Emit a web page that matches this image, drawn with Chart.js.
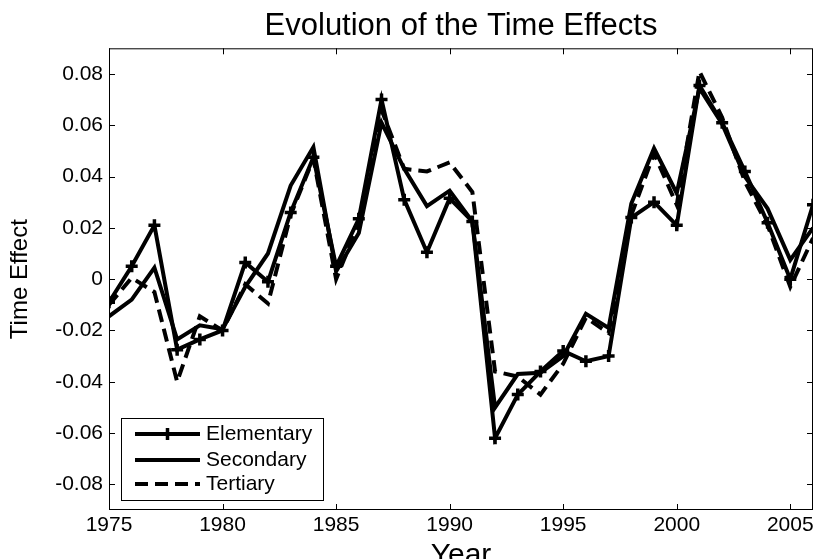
<!DOCTYPE html>
<html>
<head>
<meta charset="utf-8">
<script src="https://cdn.jsdelivr.net/npm/chart.js@4"></script>
<style>
  html, body { margin: 0; padding: 0; background: #fff; }
  #wrap { width: 814px; height: 559px; }
</style>
</head>
<body>
<div id="wrap"><canvas id="chart" width="814" height="559"></canvas></div>
<script>
const years = [1975, 1976, 1977, 1978, 1979, 1980, 1981, 1982, 1983, 1984, 1985,
               1986, 1987, 1988, 1989, 1990, 1991, 1992, 1993, 1994, 1995, 1996,
               1997, 1998, 1999, 2000, 2001, 2002, 2003, 2004, 2005, 2006];

const elementary = [-0.009, 0.005, 0.021, -0.0275, -0.0235, -0.020, 0.0065, -0.001, 0.026, 0.0475, 0.005,
                    0.0235, 0.070, 0.031, 0.0105, 0.0315, 0.0225, -0.062, -0.045, -0.036, -0.028, -0.032,
                    -0.030, 0.024, 0.030, 0.021, 0.0755, 0.061, 0.042, 0.022, 0.000, 0.029];

const secondary = [-0.0145, -0.008, 0.0045, -0.0235, -0.018, -0.0195, -0.003, 0.010, 0.0365, 0.0515, 0.003,
                   0.018, 0.061, 0.043, 0.0285, 0.0345, 0.0225, -0.050, -0.037, -0.0365, -0.030, -0.0135,
                   -0.019, 0.0295, 0.051, 0.0335, 0.0745, 0.0605, 0.040, 0.0275, 0.0075, 0.020];

const tertiary = [-0.010, 0.0005, -0.005, -0.040, -0.0145, -0.020, -0.002, -0.0095, 0.025, 0.047, 0.000,
                  0.022, 0.066, 0.043, 0.042, 0.0455, 0.034, -0.036, -0.038, -0.045, -0.033, -0.015,
                  -0.021, 0.025, 0.049, 0.029, 0.081, 0.063, 0.038, 0.021, -0.003, 0.016];

const xTicks = [1975, 1980, 1985, 1990, 1995, 2000, 2005];
const yTicks = [-0.08, -0.06, -0.04, -0.02, 0, 0.02, 0.04, 0.06, 0.08];

const FONT = '"Liberation Sans", Arial, Helvetica, sans-serif';

const toPoints = vals => years.map((yr, i) => ({ x: yr, y: vals[i] }));

// box round the axes with inward ticks, plus the matlab style legend
const framePlugin = {
    id: 'frame',
    afterDatasetsDraw(chart) {
        const { ctx, chartArea: a, scales: { x, y } } = chart;
        ctx.save();
        ctx.strokeStyle = '#000';
        ctx.lineWidth = 1;
        ctx.setLineDash([]);
        ctx.strokeRect(a.left + 0.5, a.top + 0.5, a.width - 1, a.height - 1);
        ctx.beginPath();
        xTicks.forEach(v => {
            const px = Math.round(x.getPixelForValue(v)) + 0.5;
            ctx.moveTo(px, a.bottom); ctx.lineTo(px, a.bottom - 6);
            ctx.moveTo(px, a.top); ctx.lineTo(px, a.top + 6);
        });
        yTicks.forEach(v => {
            const py = Math.round(y.getPixelForValue(v)) + 0.5;
            ctx.moveTo(a.left, py); ctx.lineTo(a.left + 6, py);
            ctx.moveTo(a.right, py); ctx.lineTo(a.right - 6, py);
        });
        ctx.stroke();

        // legend
        const bx = a.left + 12, by = a.bottom - 92, bw = 202, bh = 82;
        ctx.fillStyle = '#fff';
        ctx.fillRect(bx, by, bw, bh);
        ctx.strokeRect(bx + 0.5, by + 0.5, bw, bh);
        const rows = [by + 16, by + 42, by + 66];
        ctx.font = '21px ' + FONT;
        ctx.textBaseline = 'middle';
        chart.data.datasets.forEach((ds, i) => {
            const ry = rows[i];
            ctx.lineWidth = ds.borderWidth;
            ctx.setLineDash(ds.borderDash || []);
            ctx.beginPath();
            ctx.moveTo(bx + 14, ry);
            ctx.lineTo(bx + 79, ry);
            ctx.stroke();
            ctx.setLineDash([]);
            if (ds.pointRadius > 0) {
                const cx = bx + 46.5, r = ds.pointRadius;
                ctx.lineWidth = ds.pointBorderWidth;
                ctx.beginPath();
                ctx.moveTo(cx - r, ry); ctx.lineTo(cx + r, ry);
                ctx.moveTo(cx, ry - r); ctx.lineTo(cx, ry + r);
                ctx.stroke();
            }
            ctx.fillStyle = '#000';
            ctx.fillText(ds.label, bx + 85, ry);
        });
        ctx.restore();
    }
};

const config = {
    type: 'line',
    data: {
        datasets: [{
            label: 'Elementary',
            data: toPoints(elementary),
            borderColor: '#000',
            borderWidth: 4,
            pointStyle: 'cross',
            pointRadius: 6,
            pointBorderWidth: 3.5,
            pointBorderColor: '#000'
        }, {
            label: 'Secondary',
            data: toPoints(secondary),
            borderColor: '#000',
            borderWidth: 4,
            pointRadius: 0
        }, {
            label: 'Tertiary',
            data: toPoints(tertiary),
            borderColor: '#000',
            borderWidth: 4,
            borderDash: [13, 7],
            pointRadius: 0
        }]
    },
    options: {
        responsive: false,
        animation: false,
        devicePixelRatio: 1,
        layout: { autoPadding: false, padding: { left: 0, right: 1, top: 0, bottom: 0 } },
        elements: { line: { tension: 0 } },
        scales: {
            x: {
                type: 'linear',
                min: 1975,
                max: 2006,
                afterBuildTicks: axis => { axis.ticks = xTicks.map(v => ({ value: v })); },
                afterFit: axis => { axis.height = 49; axis.paddingLeft = 0; axis.paddingRight = 0; },
                grid: { display: false, drawTicks: false },
                border: { display: false },
                ticks: {
                    padding: 3,
                    color: '#000',
                    font: { family: FONT, size: 21 },
                    callback: v => String(v)
                },
                title: {
                    display: true,
                    text: 'Year',
                    color: '#000',
                    font: { family: FONT, size: 30, lineHeight: 0.25 },
                    padding: 0
                }
            },
            y: {
                min: -0.09,
                max: 0.09,
                afterBuildTicks: axis => { axis.ticks = yTicks.map(v => ({ value: v })); },
                afterFit: axis => { axis.width = 109; axis.paddingTop = 0; axis.paddingBottom = 0; },
                grid: { display: false, drawTicks: false },
                border: { display: false },
                ticks: {
                    padding: 6,
                    color: '#000',
                    font: { family: FONT, size: 21 },
                    callback: v => Math.abs(v) < 1e-9 ? '0' : v.toFixed(2)
                },
                title: {
                    display: true,
                    text: 'Time Effect',
                    color: '#000',
                    font: { family: FONT, size: 24, lineHeight: 1 },
                    padding: { top: 8, bottom: 0 }
                }
            }
        },
        plugins: {
            legend: { display: false },
            tooltip: { enabled: false },
            title: {
                display: true,
                fullSize: false,
                text: 'Evolution of the Time Effects',
                color: '#000',
                font: { family: FONT, size: 31, weight: 'normal' },
                padding: { top: 7.4, bottom: 3.7 }
            }
        }
    },
    plugins: [framePlugin]
};

new Chart(document.getElementById('chart'), config);
</script>
</body>
</html>
